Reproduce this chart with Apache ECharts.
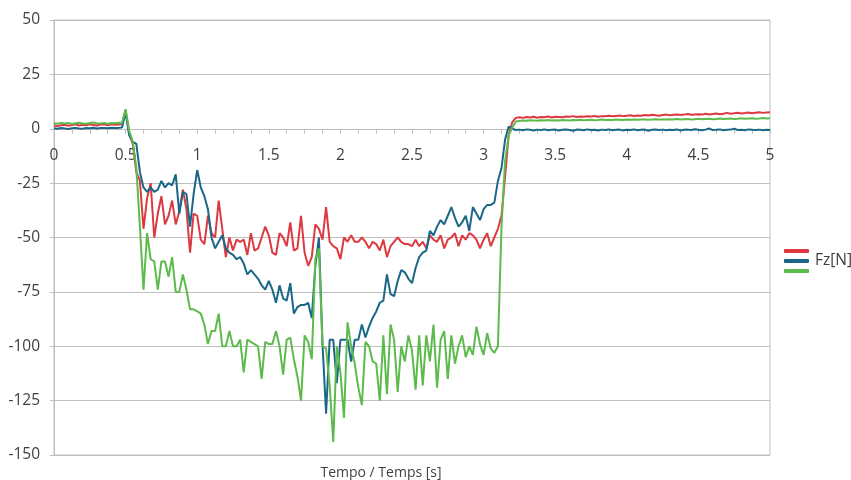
<!DOCTYPE html>
<html>
<head>
<meta charset="utf-8">
<script src="https://cdn.jsdelivr.net/npm/echarts@6/dist/echarts.min.js"></script>
<style>html,body{margin:0;padding:0;background:#fff}#c{width:851px;height:480px}</style>
</head>
<body>
<div id="c"></div>
<script>
// time categories: 0 .. 5 s, step 0.025 s (201 samples)
const times = [];
for (let i = 0; i <= 200; i++) times.push(String(+(i * 0.025).toFixed(3)));

const fzRed = [
 1.5,1.2,1.6,1.8,1.4,1.7,2.0,1.5,1.8,1.6,2.1,1.7,1.5,1.9,2.0,1.6,2.1,1.8,2.0,2.2,
 8.5,
 -2,-7,-20,-24,-46,-32,-25,-50,-39,-31,-44,-40,-33,-44,-38,-28,-37,-57,-39,-40,
 -51,-53,-40,-48,-50,-33,-46,-59,-50,-56,-51,-52,-51,-58,-48,-56,-55,-50,-45,-49,-57,-58,-48,-50,
 -54,-43,-56,-55,-40,-57,-63,-59,-44,-46,-51,-36,-52,-54,-55,-60,-50,-52,-49,-52,-52,-50,-52,
 -55,-52,-53,-56,-51,-59,-54,-52,-50,-52,-53,-53,-54,-51,-54,-52,-55,-49,-51,-52,-49,-55,-51,-50,
 -48,-54,-49,-51,-48,-49,-51,-55,-51,-48,-54,-50,-46,-40,-22,-3,3,5,
 5.3,5.0,5.4,5.2,5.5,5.1,5.4,5.3,5.6,5.2,
 5.5,5.4,5.3,5.6,5.5,5.8,5.4,5.6,5.5,5.7,
 5.6,5.9,5.5,5.8,5.7,6.0,5.7,5.9,6.1,5.8,
 6.0,6.2,5.9,6.1,6.0,6.3,6.1,6.4,6.2,6.0,
 6.3,6.5,6.2,6.4,6.6,6.3,6.5,6.8,6.4,6.6,
 6.7,6.5,6.9,6.6,6.8,7.0,6.7,6.9,7.3,6.9,
 7.1,7.4,7.0,7.2,7.5,7.1,7.4,7.6,7.3,7.5,
 7.6
];

const fzBlue = [
 0.2,0,0.3,0.1,-0.1,0.2,0.4,0.1,0,0.3,0.2,0.5,0.1,0.3,0.4,0.2,0.5,0.3,0.4,0.6,
 7.5,
 -3,-6,-7,-20,-27,-29,-27,-29,-28,-24,-27,-25,-26,-21,-39,-29,-30,-45,-30,-19,
 -27,-31,-37,-50,-55,-52,-49,-55,-57,-58,-60,-59,-62,
 -67,-65,-67,-69,-72,-74,-70,-74,-80,-72,
 -78,-79,-71,-85,-82,-81,-81,-80,-87,-63,-50,-99,
 -131,-97,-97,-117,-97,-97,-97,-107,-97,-97,-90,-96,
 -91,-87,-84,-80,-79,-67,-76,-77,-70,-65,-66,-69,-71,-64,-59,-57,-56,-47,-49,-45,
 -42,-44,-40,-36,-41,-45,-43,-40,-47,-36,-39,-42,-37,-35,-35,-34,-24,-18,-5,1,
 0,-0.6,-0.4,-0.7,-0.3,-0.5,-0.8,-0.4,-0.6,-0.3,
 -0.7,-0.5,-0.4,-0.8,-0.5,-0.3,-0.6,-0.9,-0.4,-0.5,
 -0.7,-0.3,-0.6,-0.5,-0.8,-0.4,-0.6,-0.3,-0.7,-0.5,
 -0.4,-0.8,-0.5,-0.6,-0.3,-0.7,-0.5,-0.4,-0.9,-0.5,
 -0.3,-0.6,-0.4,-0.7,-0.5,-0.6,-0.3,-0.8,-0.5,-0.4,
 -0.6,-0.2,-0.5,-0.7,-0.4,0.1,-0.6,-0.5,-0.3,-0.7,
 -0.5,-0.4,0,-0.6,-0.5,-0.7,-0.3,-0.5,-0.6,-0.4,
 -0.7,-0.5,-0.6
];

const fzGreen = [
 2.5,2.3,2.6,2.4,2.7,2.2,2.5,2.8,2.4,2.3,2.6,2.9,2.5,2.4,2.7,2.3,2.6,2.5,2.8,2.6,
 9,
 -1,-6,-18,-45,-74,-48,-60,-61,-74,-61,-61,-68,-59,-75,-75,-67,-74,-83,-83,-84,
 -85,-90,-99,-93,-93,-85,-100,-100,-93,-100,-100,-97,-112,-97,-98,-99,-100,-115,-98,-99,-99,-93,-100,-113,
 -97,-96,-106,-114,-125,-95,-98,-106,-60,-55,-100,-101,-118,-144,-100,-112,-133,-89,-100,-108,-119,-127,-98,
 -100,-107,-108,-125,-95,-122,-90,-97,-121,-100,-107,-95,-102,-120,-95,-118,-95,-107,-90,-119,
 -97,-93,-115,-95,-108,-100,-95,-105,-100,-104,-91,-99,-104,-94,-101,-103,-100,
 -45,-15,-3,0.5,3.3,
 3.6,3.8,3.7,3.9,3.8,3.7,3.9,3.8,4.0,3.8,
 3.9,3.8,4.0,3.9,3.8,4.0,3.9,4.1,3.9,4.0,
 4.1,3.9,4.0,4.2,4.0,4.1,4.0,4.2,4.1,4.0,
 4.2,4.1,4.3,4.1,4.2,4.3,4.1,4.2,4.4,4.2,
 4.3,4.2,4.4,4.3,4.5,4.3,4.4,4.5,4.3,4.4,
 4.6,4.4,4.5,4.6,4.4,4.5,4.7,4.5,4.6,4.7,
 4.5,4.6,4.8,4.6,4.7,4.8,4.6,4.7,4.9,4.7,
 4.8
];

const seriesNames = ['Fz_r', 'Fz[N]', 'Fz_g'];
const seriesColors = ['#DC3A40', '#1B6788', '#5DBB4C'];
const seriesData = [fzRed, fzBlue, fzGreen];
const xTitle = 'Tempo / Temps [s]';
const Y_MIN = -150, Y_MAX = 50;

const FONT = '"Open Sans", sans-serif';
const TXT = '#404040';
const GRID = '#BFBFBF';
const GRID_TOP = 20, GRID_BOTTOM = 25, H = 480;
const plotH = H - GRID_TOP - GRID_BOTTOM;
// place the x axis (line, ticks, labels) at y = 0
const zeroOffset = -plotH * (0 - Y_MIN) / (Y_MAX - Y_MIN);

const chart = echarts.init(document.getElementById('c'), null, {renderer: 'canvas'});
chart.setOption({
  animation: false,
  backgroundColor: '#fff',
  grid: {left: 54, right: 81, top: GRID_TOP, bottom: GRID_BOTTOM, show: true, borderColor: GRID, borderWidth: 1, backgroundColor: 'transparent'},
  legend: {
    orient: 'vertical', left: 779, top: 244,
    itemWidth: 25, itemHeight: 4, itemGap: 0, icon: 'roundRect',
    data: seriesNames,
    formatter: n => (n === 'Fz[N]' ? n : ''),
    textStyle: {fontFamily: FONT, fontSize: 15.5, color: TXT, lineHeight: 13, padding: [0, 0, 0, 1]}
  },
  xAxis: {
    type: 'category', data: times, boundaryGap: false, offset: zeroOffset,
    axisLine: {onZero: false, lineStyle: {color: GRID, width: 1}},
    axisTick: {show: true, interval: 4, length: 5, lineStyle: {color: GRID}},
    axisLabel: {interval: 19, margin: 19, fontFamily: FONT, fontSize: 15.5, color: TXT, formatter: v => String(+v)},
    splitLine: {show: false}
  },
  yAxis: {
    type: 'value', min: Y_MIN, max: Y_MAX, interval: 25,
    axisLine: {show: true, lineStyle: {color: GRID, width: 1}},
    axisTick: {show: true, length: 4, lineStyle: {color: GRID}},
    axisLabel: {margin: 14, fontFamily: FONT, fontSize: 15.5, color: TXT},
    splitLine: {show: true, lineStyle: {color: GRID, width: 1}}
  },
  graphic: [{
    type: 'text', x: 381, y: 473,
    style: {text: xTitle, align: 'center', verticalAlign: 'middle', font: '14px ' + FONT, fill: TXT}
  }],
  series: seriesNames.map((n, k) => ({
    name: n, type: 'line', data: seriesData[k], showSymbol: false, symbol: 'none',
    color: seriesColors[k], lineStyle: {width: 2, color: seriesColors[k]}
  }))
});
</script>
</body>
</html>
